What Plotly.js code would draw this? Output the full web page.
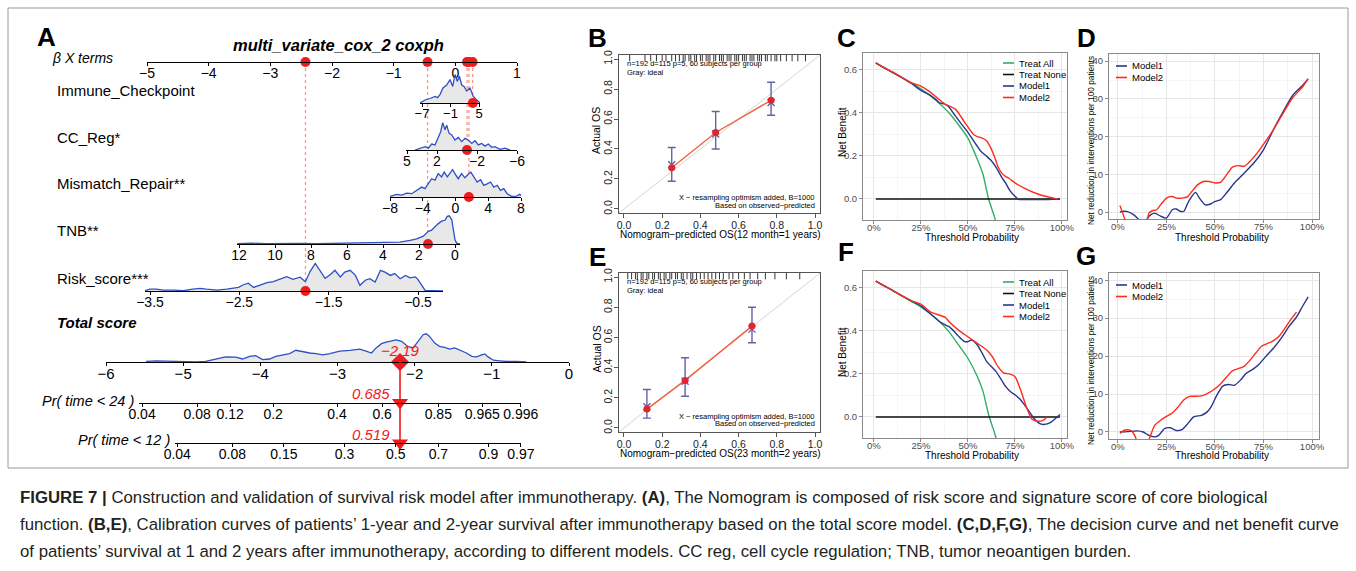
<!DOCTYPE html>
<html><head><meta charset="utf-8">
<script src="https://cdn.plot.ly/plotly-3.0.1.min.js"></script>
<style>html,body{margin:0;padding:0;background:#fff;}#chart{width:1356px;height:571px;}</style>
</head><body><div id="chart"></div>
<script>
// ================= DATA =================
// ---- Panel A : nomogram ----
const nomoTitle = 'multi_variate_cox_2 coxph';
const rowLabels = ['Immune_Checkpoint','CC_Reg*','Mismatch_Repair**','TNB**','Risk_score***'];
const betaTicks = [-5,-4,-3,-2,-1,0,1];
const betaPoint = [0.28, 0.19, 0.22, -0.45, -2.43];   // beta*X of the example patient
const rowPoint  = [3.7, -1.0, 1.63, 1.5, -1.76];       // covariate values of the example patient
const immuneTicks = [-7,-1,5];
const ccTicks = [5,2,-2,-6];
const mismatchTicks = [-8,-4,0,4,8];
const tnbTicks = [12,10,8,6,4,2,0];
const riskTicks = [-3.5,-2.5,-1.5,-0.5];
const totalTicks = [-6,-5,-4,-3,-2,-1,0];
const immuneDensX = [-7.42,-6.37,-5.31,-4.26,-3.75,-3.21,-2.58,-1.8,-1.1,-0.54,-0.05,0.43,0.85,1.36,1.84,2.41,3.11,3.8,4.52,5.21];
const immuneDensY = [0.0,0.1,0.15,0.22,0.18,0.28,0.5,0.6,0.78,0.55,0.95,0.72,0.9,0.6,0.55,0.4,0.5,0.22,0.1,0.0];
const ccDensX = [4.2,3.7,3.2,2.87,2.53,2.2,1.87,1.63,1.43,1.2,1.03,0.8,0.53,0.2,-0.13,-0.47,-0.8,-1.13,-1.47,-1.8,-2.13,-2.47,-2.8,-3.13,-3.47,-3.8,-4.3,-4.8,-5.3];
const ccDensY = [0,0.06,0.11,0.06,0.2,0.17,0.44,0.61,0.91,0.67,0.83,0.56,0.5,0.33,0.42,0.28,0.39,0.33,0.22,0.31,0.17,0.22,0.13,0.2,0.09,0.11,0.02,0.06,0];
const mismatchDensX = [-8.0,-7.18,-6.57,-5.96,-5.35,-4.74,-4.13,-3.73,-3.33,-2.92,-2.51,-2.11,-1.7,-1.38,-1.0,-0.68,-0.35,-0.03,0.33,0.74,1.15,1.55,1.88,2.24,2.65,3.06,3.46,3.87,4.28,4.68,5.09,5.5,5.9,6.31,6.84,7.45,7.85,8.0];
const mismatchDensY = [0.02,0.09,0.06,0.13,0.11,0.22,0.33,0.28,0.44,0.61,0.56,0.78,0.67,0.83,0.67,0.78,0.91,0.76,0.61,0.78,0.64,0.76,0.83,0.67,0.5,0.58,0.39,0.44,0.5,0.33,0.39,0.22,0.28,0.11,0.02,0.03,0.09,0.05];
const tnbDensX = [12.1,11.3,10.5,9.6,8.61,7.7,6.76,5.8,4.91,3.98,3.06,2.5,2.13,1.76,1.48,1.3,1.11,0.93,0.74,0.56,0.43,0.32,0.18,0.09,0.0,-0.09,-0.28];
const tnbDensY = [0.01,0.03,0.01,0.02,0.02,0.01,0.02,0.02,0.03,0.03,0.06,0.12,0.17,0.26,0.42,0.46,0.59,0.68,0.76,0.79,0.92,0.94,0.81,0.42,0.14,0.03,0];
const riskDensX = [-3.56,-3.5,-3.43,-3.35,-3.24,-3.13,-3.02,-2.94,-2.87,-2.75,-2.64,-2.59,-2.51,-2.46,-2.4,-2.34,-2.27,-2.19,-2.12,-2.04,-1.97,-1.9,-1.82,-1.76,-1.71,-1.65,-1.6,-1.54,-1.48,-1.43,-1.37,-1.32,-1.26,-1.2,-1.15,-1.09,-1.04,-0.98,-0.92,-0.87,-0.81,-0.76,-0.7,-0.64,-0.59,-0.53,-0.5,-0.46,-0.42,-0.33,-0.22];
const riskDensY = [0.01,0.06,0.06,0.03,0.03,0.01,0.06,0.09,0.06,0.03,0.06,0.09,0.12,0.2,0.26,0.12,0.2,0.28,0.31,0.39,0.48,0.39,0.46,0.31,0.64,0.92,0.7,0.42,0.55,0.69,0.47,0.63,0.69,0.52,0.19,0.36,0.41,0.3,0.69,0.63,0.52,0.58,0.41,0.52,0.44,0.47,0.38,0.19,0.02,0.01,0];
const totalDensX = [-5.48,-5.35,-5.22,-5.09,-4.96,-4.84,-4.71,-4.58,-4.45,-4.32,-4.23,-4.14,-4.06,-3.97,-3.88,-3.8,-3.71,-3.62,-3.54,-3.45,-3.36,-3.28,-3.19,-3.1,-2.97,-2.84,-2.71,-2.63,-2.56,-2.5,-2.43,-2.37,-2.3,-2.24,-2.17,-2.09,-2.02,-1.96,-1.89,-1.85,-1.81,-1.74,-1.68,-1.61,-1.55,-1.48,-1.42,-1.33,-1.26,-1.2,-1.13,-1.09,-1.05,-0.98,-0.9,-0.81,-0.68,-0.55];
const totalDensY = [0.02,0.04,0.03,0.02,0,0,0.02,0.1,0.17,0.16,0.1,0.19,0.21,0.08,0.1,0.19,0.24,0.28,0.39,0.34,0.3,0.28,0.24,0.28,0.36,0.39,0.43,0.36,0.3,0.47,0.61,0.66,0.69,0.74,0.69,0.52,0.47,0.69,0.91,0.94,0.86,0.63,0.52,0.49,0.43,0.47,0.41,0.3,0.19,0.17,0.24,0.27,0.17,0.06,0.04,0.02,0.02,0];
const totalPoint = -2.19;
const pr24Point = 0.685, pr12Point = 0.519;
const pr24Ticks = [0.04,0.08,0.12,0.2,0.4,0.6,0.85,0.965,0.996];
const pr12Ticks = [0.04,0.08,0.15,0.3,0.5,0.7,0.9,0.97];

// ---- Panels B / E : calibration ----
const calB_pred = [0.25,0.48,0.77], calB_obs = [0.275,0.51,0.725], calB_lo = [0.185,0.40,0.625], calB_hi = [0.41,0.65,0.845], calB_corr = [0.295,0.50,0.71];
const calE_pred = [0.12,0.32,0.67], calE_obs = [0.125,0.315,0.675], calE_lo = [0.065,0.21,0.565], calE_hi = [0.255,0.465,0.80], calE_corr = [0.14,0.31,0.655];
const rugB = [0.03,0.11,0.14,0.17,0.2,0.22,0.25,0.27,0.29,0.31,0.32,0.34,0.35,0.37,0.38,0.4,0.41,0.43,0.44,0.45,0.47,0.48,0.5,0.51,0.52,0.54,0.55,0.56,0.58,0.59,0.6,0.62,0.63,0.64,0.66,0.67,0.68,0.7,0.71,0.72,0.74,0.75,0.77,0.79,0.8,0.82,0.85,0.88,0.91,0.95];
const rugE = [0.02,0.04,0.06,0.07,0.09,0.1,0.12,0.13,0.15,0.16,0.18,0.19,0.21,0.22,0.24,0.25,0.27,0.28,0.3,0.31,0.33,0.35,0.36,0.38,0.4,0.42,0.44,0.46,0.48,0.5,0.52,0.55,0.57,0.6,0.63,0.66,0.7,0.74,0.79,0.85,0.92];

// ---- Panels C / F : decision curves ----
const allC_x = [0.01,0.05,0.10,0.15,0.20,0.25,0.30,0.35,0.40,0.45,0.50,0.55,0.58,0.61,0.64,0.66];
const allC_y = [0.633,0.613,0.590,0.565,0.540,0.512,0.480,0.443,0.400,0.345,0.283,0.185,0.115,0.0,-0.08,-0.14];
const noneC_x = [0.01,0.99], noneC_y = [0,0];
const m1C_x = [0.01,0.05,0.10,0.15,0.20,0.25,0.30,0.33,0.35,0.38,0.40,0.43,0.46,0.50,0.53,0.55,0.57,0.60,0.62,0.65,0.68,0.70,0.72,0.75,0.77,0.80,0.85,0.90,0.95,0.99];
const m1C_y = [0.633,0.612,0.588,0.563,0.537,0.505,0.482,0.462,0.447,0.44,0.427,0.39,0.355,0.31,0.27,0.245,0.221,0.198,0.182,0.147,0.10,0.075,0.043,0.012,-0.002,-0.003,-0.003,-0.003,-0.002,0.0];
const m2C_x = [0.01,0.05,0.10,0.15,0.20,0.25,0.30,0.35,0.38,0.40,0.43,0.45,0.48,0.50,0.53,0.55,0.57,0.60,0.62,0.64,0.66,0.68,0.70,0.72,0.75,0.80,0.85,0.90,0.95,0.98];
const m2C_y = [0.633,0.613,0.590,0.565,0.540,0.525,0.497,0.46,0.44,0.433,0.42,0.40,0.36,0.335,0.30,0.29,0.285,0.27,0.24,0.2,0.15,0.12,0.105,0.095,0.075,0.05,0.03,0.015,0.005,0.0];
const allF_x = [0.01,0.05,0.10,0.15,0.20,0.25,0.30,0.35,0.40,0.45,0.50,0.55,0.58,0.61,0.64,0.66];
const allF_y = [0.632,0.612,0.588,0.562,0.537,0.512,0.48,0.443,0.396,0.335,0.273,0.188,0.12,0.01,-0.07,-0.13];
const noneF_x = [0.01,0.99], noneF_y = [0,0];
const m1F_x = [0.01,0.05,0.10,0.15,0.20,0.25,0.30,0.35,0.38,0.40,0.43,0.45,0.48,0.50,0.52,0.55,0.58,0.60,0.63,0.65,0.68,0.70,0.73,0.75,0.78,0.80,0.83,0.85,0.88,0.90,0.93,0.96,0.99];
const m1F_y = [0.632,0.612,0.589,0.563,0.54,0.517,0.48,0.443,0.428,0.42,0.395,0.376,0.352,0.35,0.358,0.335,0.29,0.257,0.23,0.211,0.17,0.142,0.115,0.103,0.08,0.057,0.02,-0.005,-0.03,-0.035,-0.03,-0.012,0.011];
const m2F_x = [0.01,0.05,0.10,0.15,0.20,0.25,0.30,0.35,0.38,0.40,0.45,0.50,0.55,0.60,0.63,0.66,0.69,0.72,0.75,0.78,0.81,0.84,0.87,0.90,0.92];
const m2F_y = [0.632,0.612,0.588,0.563,0.54,0.525,0.489,0.473,0.463,0.443,0.404,0.373,0.342,0.311,0.28,0.234,0.205,0.2,0.188,0.126,0.049,-0.01,-0.02,-0.016,0.0];

// ---- Panels D / G : net reduction in interventions ----
const m1D_x = [0.01,0.03,0.05,0.08,0.10,0.12,0.14,0.15,0.17,0.19,0.22,0.25,0.28,0.30,0.32,0.34,0.36,0.38,0.40,0.42,0.45,0.48,0.50,0.53,0.56,0.60,0.65,0.70,0.75,0.80,0.85,0.90,0.95,0.98];
const m1D_y = [0,0.2,0.1,-0.7,-1.6,-2.6,-2.6,-1.8,-0.7,-0.3,-1.1,-1.6,0.6,0.8,0.2,0.2,2.4,4.1,5.2,3.7,1.9,2.2,2.8,3.3,5.1,7.7,10.3,13.0,16.5,21.7,26.5,30.9,33.5,35.3];
const m2D_x = [0.01,0.02,0.03,0.04,0.05,0.14,0.15,0.16,0.18,0.20,0.22,0.25,0.28,0.30,0.33,0.36,0.38,0.41,0.44,0.47,0.50,0.53,0.56,0.59,0.62,0.65,0.68,0.72,0.76,0.80,0.85,0.90,0.95,0.98];
const m2D_y = [1.7,0.4,-1.1,-2.6,-4,-4,-2.5,-0.3,0.4,0.6,1.9,3.7,4.1,3.7,3.7,4.1,5.4,7.2,8.1,8.1,7.7,7.9,9.9,11.9,12.3,12.1,13.4,15.8,18.7,21.7,26.1,30.3,33.1,35.3];
const m1G_x = [0.01,0.05,0.10,0.13,0.16,0.19,0.21,0.24,0.27,0.30,0.33,0.36,0.39,0.43,0.46,0.48,0.51,0.54,0.57,0.60,0.63,0.66,0.70,0.73,0.76,0.80,0.84,0.88,0.92,0.95,0.98];
const m1G_y = [0,0.1,0.3,0,-0.9,-1.3,-0.9,0.9,1.1,0.4,0.6,2.2,4.0,4.4,5.3,6.6,9.7,12.1,12.5,12.3,13.6,15.4,16.7,18.0,19.8,22.0,24.6,27.7,30.3,33.0,35.6];
const m2G_x = [0.01,0.03,0.05,0.07,0.09,0.10,0.15,0.17,0.19,0.22,0.25,0.28,0.31,0.34,0.37,0.40,0.43,0.46,0.50,0.53,0.56,0.59,0.62,0.65,0.68,0.71,0.74,0.77,0.80,0.83,0.86,0.89,0.92];
const m2G_y = [-0.4,0.4,0.6,0.3,-1.3,-3,-3,-0.6,1.8,3.1,4.1,5.0,6.6,8.5,9.4,9.4,9.5,10.1,11.4,12.7,14.5,16.1,16.7,17.3,18.9,20.8,22.6,23.3,24.0,25.2,27.3,29.6,31.6];

const dcaLegend = ['Treat All','Treat None','Model1','Model2'];
const nriLegend = ['Model1','Model2'];
const captionLines = [
 '<b>FIGURE 7 |</b> Construction and validation of survival risk model after immunotherapy. <b>(A)</b>, The Nomogram is composed of risk score and signature score of core biological',
 'function. <b>(B,E)</b>, Calibration curves of patients\u2019 1-year and 2-year survival after immunotherapy based on the total score model. <b>(C,D,F,G)</b>, The decision curve and net benefit curve',
 'of patients\u2019 survival at 1 and 2 years after immunotherapy, according to different models. CC reg, cell cycle regulation; TNB, tumor neoantigen burden.'
];

// ================= DRAWING =================
const W = 1356, H = 571;
const FONT = '"Liberation Sans", Arial, Helvetica, sans-serif';
const X = p => p / W, Y = p => 1 - p / H;
const RED = '#ee1b1b', BLUE = '#2f50c4', NAVY = '#27368a', MRED = '#ff2b1c', GREEN = '#2fae66';
const MINUS = s => String(s).replace('-', '\u2212');
const layout = {width:W, height:H, margin:{l:0,r:0,t:0,b:0,pad:0}, paper_bgcolor:'#fff', plot_bgcolor:'#fff',
  showlegend:false, font:{family:FONT,color:'#000',size:12}, shapes:[], annotations:[]};
const traces = [];
const sfx = n => n === 1 ? '' : String(n);
function txt(t, x, y, size, opts){
  layout.annotations.push(Object.assign({text:t, x:X(x), y:Y(y), xref:'paper', yref:'paper', showarrow:false,
    xanchor:'center', yanchor:'middle', font:{family:FONT,size:size,color:'#000'}}, opts||{}));
}

// nomogram axis builder
function nomoAxis(n, px0, px1, yLine, calib, tickvals, ticktext, fs){
  const s = sfx(n);
  const v = p => calib[0] + (p - calib[1]) * (calib[2] - calib[0]) / (calib[3] - calib[1]);
  layout['xaxis'+s] = {domain:[X(px0),X(px1)], range:[v(px0), v(px1)], anchor:'y'+s, showline:true, linecolor:'#000', linewidth:1.2,
    ticks:'outside', ticklen:3, tickwidth:1, tickcolor:'#000', tickmode:'array', tickvals:tickvals, ticktext:ticktext,
    ticklabelstandoff:-5, showgrid:false, zeroline:false, tickfont:{family:FONT,size:fs||14,color:'#000'}, fixedrange:true};
  layout['yaxis'+s] = {domain:[Y(yLine), Y(yLine-30)], range:[0,1], anchor:'x'+s, visible:false, fixedrange:true};
}
function dens(n, xs, ys){
  const s = sfx(n);
  traces.push({x:xs, y:ys, xaxis:'x'+s, yaxis:'y'+s, mode:'lines', fill:'tozeroy', fillcolor:'#e8e8e8',
    line:{color:BLUE, width:1.3}, hoverinfo:'skip'});
}
function dot(n, xv, sym, size){
  const s = sfx(n);
  traces.push({x:xv, y:xv.map(()=>0), xaxis:'x'+s, yaxis:'y'+s, mode:'markers', cliponaxis:false,
    marker:{color:RED, size:size||10, symbol:sym||'circle'}, hoverinfo:'skip'});
}

// beta axis
const betaY = 62;
nomoAxis(1, 147, 517, betaY, [-5,147,1,517], betaTicks);
dot(1, betaPoint);
// rows
const rowY = [103,150,197,244,291];
nomoAxis(2, 420, 480, rowY[0], [-7,422,5,479], immuneTicks, undefined, 13);
nomoAxis(3, 406, 517, rowY[1], [5,407,-6,517], ccTicks, undefined, 14);
nomoAxis(4, 390, 521, rowY[2], [-8,390,8,521], mismatchTicks, undefined, 14);
nomoAxis(5, 237, 460, rowY[3], [12,239,0,455], tnbTicks, undefined, 14);
nomoAxis(6, 145, 443, rowY[4], [-3.5,150,-0.5,418], riskTicks, undefined, 14);
dens(2, immuneDensX, immuneDensY);
dens(3, ccDensX, ccDensY);
dens(4, mismatchDensX, mismatchDensY);
dens(5, tnbDensX, tnbDensY);
dens(6, riskDensX, riskDensY);
for (let i=0;i<5;i++){
  layout.shapes.push({type:'line', xref:'x', yref:'paper', x0:betaPoint[i], x1:betaPoint[i], y0:Y(betaY), y1:Y(rowY[i]),
    line:{color:'#f59a8a', width:1.3, dash:'dot'}, layer:'below'});
  dot(i+2, [rowPoint[i]]);
  txt(rowLabels[i], 55, rowY[i]-13, 15, {xanchor:'left'});
}
// total score
const totY = 362, pr24Y = 402.5, pr12Y = 443;
const totCal = [-6,106,0,569];
nomoAxis(7, 106, 569, totY, totCal, totalTicks, undefined, 15);
dens(7, totalDensX, totalDensY);
traces.push({x:[totalPoint], y:[0], xaxis:'x7', yaxis:'y7', mode:'markers', cliponaxis:false,
  marker:{color:RED, size:14, symbol:'diamond'}, hoverinfo:'skip'});
layout.annotations.push({text:'<i>'+MINUS(totalPoint)+'</i>', xref:'x7', yref:'paper', x:totalPoint, y:Y(350), showarrow:false,
  xanchor:'center', yanchor:'middle', font:{family:FONT,size:15,color:RED}});
// probability axes: cloglog link through the patient's point
const cll = p => Math.log(-Math.log(1-p));
function prAxis(n, px0, yLine, ticks, pPoint){
  const pos = ticks.map(p => cll(p) - cll(pPoint) + totalPoint);
  nomoAxis(n, px0, 521, yLine, totCal, pos, ticks.map(String), 14);
  traces.push({x:[totalPoint], y:[0], xaxis:'x'+n, yaxis:'y'+n, mode:'markers', cliponaxis:false,
    marker:{color:RED, size:14, symbol:'triangle-down'}, hoverinfo:'skip'});
  layout.annotations.push({text:'<i>'+String(pPoint)+'</i>', xref:'x'+n, yref:'paper', x:totalPoint, y:Y(yLine-9), showarrow:false,
    xanchor:'right', yanchor:'middle', xshift:-8, font:{family:FONT,size:15,color:RED}});
}
prAxis(8, 139, pr24Y, pr24Ticks, pr24Point);
prAxis(9, 175, pr12Y, pr12Ticks, pr12Point);
layout.shapes.push({type:'line', xref:'x7', yref:'paper', x0:totalPoint, x1:totalPoint, y0:Y(totY), y1:Y(pr12Y),
  line:{color:RED, width:1.6}});
txt('<b><i>Total score</i></b>', 55, 322, 15, {xanchor:'left'});
txt('<i>Pr( time &lt; 24 )</i>', 136, 401, 14.5, {xanchor:'right'});
txt('<i>Pr( time &lt; 12 )</i>', 172, 440, 14.5, {xanchor:'right'});
txt('<i>\u03b2 X terms</i>', 50, 58, 14, {xanchor:'left'});
txt('<b><i>'+nomoTitle+'</i></b>', 338, 45, 16.5);

// ---- calibration panels ----
function calPanel(n, px0, px1, py0, py1, pred, obs, lo, hi, corr, rug, xTitle){
  const s = sfx(n);
  const base = {showline:true, mirror:true, linecolor:'#555', linewidth:1, ticks:'outside', ticklen:4, tickcolor:'#555',
    tickmode:'array', tickvals:[0,0.2,0.4,0.6,0.8,1], tickformat:'.1f', tickfont:{family:FONT,size:10.5,color:'#222'},
    showgrid:false, zeroline:false, fixedrange:true, ticklabelstandoff:-2};
  layout['xaxis'+s] = Object.assign({}, base, {domain:[X(px0),X(px1)], range:[-0.026,1.026], anchor:'y'+s});
  layout['yaxis'+s] = Object.assign({}, base, {domain:[Y(py1),Y(py0)], range:[-0.027,1.027], anchor:'x'+s, tickangle:-90});
  const ax = {xaxis:'x'+s, yaxis:'y'+s, hoverinfo:'skip'};
  traces.push(Object.assign({x:[-0.1,1.1], y:[-0.1,1.1], mode:'lines', line:{color:'#d4d4d4', width:1}}, ax));
  traces.push(Object.assign({x:rug, y:rug.map(()=>1.013), mode:'markers', marker:{symbol:'line-ns-open', size:6, color:'#333', line:{color:'#333', width:1}}}, ax));
  traces.push(Object.assign({x:pred, y:obs, mode:'lines', line:{color:'#f3603f', width:1.4},
    error_y:{type:'data', symmetric:false, array:hi.map((h,i)=>h-obs[i]), arrayminus:lo.map((l,i)=>obs[i]-l), color:'#6264a8', thickness:1.4, width:4}}, ax));
  traces.push(Object.assign({x:pred, y:corr, mode:'markers', marker:{symbol:'x-thin-open', size:7, color:'#5b63b5', line:{color:'#5b63b5', width:1.4}}}, ax));
  traces.push(Object.assign({x:pred, y:obs, mode:'markers', marker:{color:'#e0262d', size:7}}, ax));
  txt('n=192 d=115 p=5, 60 subjects per group', 625, py0+8, 7.5, {xanchor:'left'});
  txt('Gray: ideal', 625, py0+17, 7.5, {xanchor:'left'});
  txt('X \u2212 resampling optimism added, B=1000', 817, py1-16, 7.5, {xanchor:'right'});
  txt('Based on observed\u2212predicted', 817, py1-8, 7.5, {xanchor:'right'});
  txt('Actual OS', 596, (py0+py1)/2-3, 10.5, {textangle:-90});
  txt(xTitle, 720, py1+21, 10);
}
calPanel(10, 619, 820, 55, 213, calB_pred, calB_obs, calB_lo, calB_hi, calB_corr, rugB, 'Nomogram\u2212predicted OS(12 month=1 years)');
calPanel(11, 619, 820, 273, 432, calE_pred, calE_obs, calE_lo, calE_hi, calE_corr, rugE, 'Nomogram\u2212predicted OS(23 month=2 years)');

// ---- ggplot-style panels ----
function ggPanel(n, px0, px1, py0, py1, xr, yr, ydt, yfmt){
  const s = sfx(n);
  const base = {showline:true, mirror:true, linecolor:'#8a8a8a', linewidth:1, ticks:'outside', ticklen:3, tickcolor:'#8a8a8a',
    tickmode:'linear', tick0:0, tickfont:{family:FONT,size:9.5,color:'#4d4d4d'}, showgrid:true, gridcolor:'#e6e6e6', gridwidth:1,
    zeroline:false, fixedrange:true};
  layout['xaxis'+s] = Object.assign({}, base, {domain:[X(px0),X(px1)], range:xr, anchor:'y'+s, dtick:0.25, tickformat:'.0%',
    ticklabelstandoff:-4, minor:{dtick:0.125, tick0:0, showgrid:true, gridcolor:'#f1f1f1', gridwidth:0.7}});
  layout['yaxis'+s] = Object.assign({}, base, {domain:[Y(py1),Y(py0)], range:yr, anchor:'x'+s, dtick:ydt, tickformat:yfmt,
    minor:{dtick:ydt/2, tick0:0, showgrid:true, gridcolor:'#f1f1f1', gridwidth:0.7}});
}
function curve(n, xs, ys, color){
  const s = sfx(n);
  traces.push({x:xs, y:ys, xaxis:'x'+s, yaxis:'y'+s, mode:'lines', line:{color:color, width:1.4, shape:'spline', smoothing:0.6}, hoverinfo:'skip'});
}
function manualLegend(names, colors, x, y0, step){
  names.forEach((nm,i)=>{
    const y = y0 + i*step;
    layout.shapes.push({type:'line', xref:'paper', yref:'paper', x0:X(x), x1:X(x+11), y0:Y(y), y1:Y(y), line:{color:colors[i], width:1.6}});
    txt(nm, x+14, y, 9.5, {xanchor:'left'});
  });
}
const dcaColors = [GREEN,'#111',NAVY,MRED];
// C
ggPanel(12, 863, 1067, 53, 220, [-0.058,1.027], [-0.098,0.679], 0.2, '.1f');
curve(12, allC_x, allC_y, GREEN); curve(12, noneC_x, noneC_y, '#111'); curve(12, m1C_x, m1C_y, NAVY); curve(12, m2C_x, m2C_y, MRED);
manualLegend(dcaLegend, dcaColors, 1003, 63, 11.5);
txt('Net Benefit', 842, 132, 10, {textangle:-90});
txt('Threshold Probability', 972, 237, 10);
// F
ggPanel(13, 863, 1067, 271, 438, [-0.058,1.027], [-0.098,0.679], 0.2, '.1f');
curve(13, allF_x, allF_y, GREEN); curve(13, noneF_x, noneF_y, '#111'); curve(13, m1F_x, m1F_y, NAVY); curve(13, m2F_x, m2F_y, MRED);
manualLegend(dcaLegend, dcaColors, 1003, 282, 11.5);
txt('Net Benefit', 842, 352, 10, {textangle:-90});
txt('Threshold Probability', 972, 456, 10);
// D
ggPanel(14, 1109, 1319, 54, 219, [-0.046,1.036], [-1.85,41.9], 10, 'd');
curve(14, m1D_x, m1D_y, NAVY); curve(14, m2D_x, m2D_y, MRED);
manualLegend(nriLegend, [NAVY,MRED], 1116, 66, 11.5);
txt('Net reduction in interventions per 100 patients', 1091, 141, 8.3, {textangle:-90});
txt('Threshold Probability', 1222, 237, 10);
// G
ggPanel(15, 1109, 1319, 273, 439, [-0.046,1.036], [-1.85,41.9], 10, 'd');
curve(15, m1G_x, m1G_y, NAVY); curve(15, m2G_x, m2G_y, MRED);
manualLegend(nriLegend, [NAVY,MRED], 1116, 285, 11.5);
txt('Net reduction in interventions per 100 patients', 1091, 361, 8.3, {textangle:-90});
txt('Threshold Probability', 1222, 456, 10);

// panel letters
[['A',46,37],['B',597,38],['C',846,38],['D',1086,38],['E',597,257],['F',846,252],['G',1086,256]].forEach(l=>
  txt('<b>'+l[0]+'</b>', l[1], l[2], 26));
// frame
layout.shapes.push({type:'rect', xref:'paper', yref:'paper', x0:X(8), x1:X(1348), y0:Y(468), y1:Y(8), line:{color:'#9a9a9a', width:1}});
// caption
captionLines.forEach((t,i)=> txt(t, 18, 497 + i*27, 16.8, {xanchor:'left', font:{family:FONT,size:16.8,color:'#231f20'}}));

Plotly.newPlot('chart', traces, layout, {staticPlot:true, displayModeBar:false});
</script>
</body></html>
